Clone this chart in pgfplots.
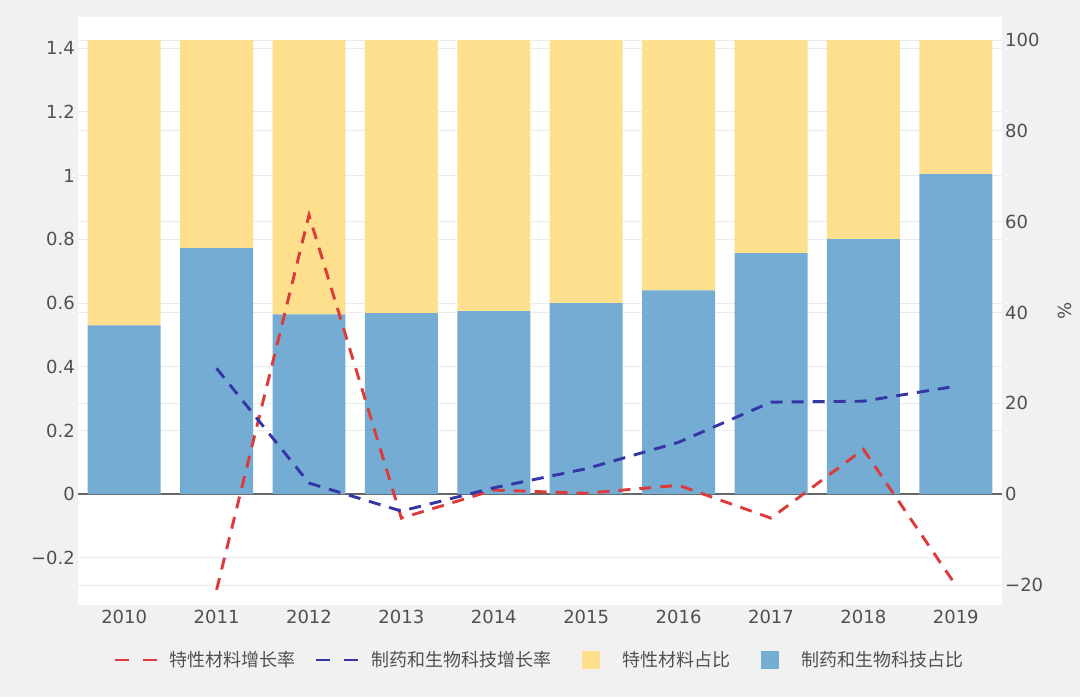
\documentclass[border=0pt]{standalone}
\usepackage{pgfplots}
\pgfplotsset{compat=1.18}
\usepackage{fontspec}
\setmainfont{DejaVu Sans}
\newfontfamily\cjk{Noto Sans CJK SC}
\definecolor{bgc}{HTML}{F1F1F1}
\definecolor{gridc}{HTML}{EBEBEB}
\definecolor{labc}{HTML}{505050}
\definecolor{zeroc}{HTML}{666666}
\definecolor{barY}{HTML}{FDDF8E}
\definecolor{barB}{HTML}{74ACD3}
\definecolor{lineR}{HTML}{DD3A3A}
\definecolor{lineB}{HTML}{3535A5}
\begin{document}
\begin{tikzpicture}
\fill[bgc] (0pt,0pt) rectangle (1080pt,697pt);
% ---------- right axis: share bars (percent) ----------
\begin{axis}[
  at={(78pt,92pt)}, anchor=south west,
  width=924pt, height=588pt, scale only axis,
  xmin=-0.5, xmax=9.5, ymin=-24.4, ymax=105.1,
  axis y line*=right, axis x line*=bottom,
  axis line style={draw=none},
  axis background/.style={fill=white},
  ybar stacked, bar width=0.79,
  xtick={0,...,9},
  xticklabels={2010,2011,2012,2013,2014,2015,2016,2017,2018,2019},
  ytick={-20,0,20,40,60,80,100},
  yticklabels={−20,0,20,40,60,80,100},
  extra y ticks={-14.03,14.03,28.07,42.10,56.14,70.17,84.20,98.24},
  extra y tick labels={},
  extra y tick style={grid=major},
  ymajorgrids,
  grid style={color=gridc, line width=1pt},
  major tick length=0pt,
  tick label style={font=\fontsize{18}{21}\selectfont, text=labc},
  yticklabel style={inner xsep=3pt},
  xticklabel style={yshift=-2pt},
  ylabel={\%},
  ylabel style={at={(axis description cs:1.068,0.5)}, anchor=center,
    font=\fontsize{18}{21}\selectfont, text=labc},
]
\addplot[fill=barB, draw=none] coordinates {
  (0,37.2) (1,54.2) (2,39.6) (3,39.9) (4,40.3)
  (5,42.1) (6,44.9) (7,53.1) (8,56.2) (9,70.5)};
\addplot[fill=barY, draw=none] coordinates {
  (0,62.8) (1,45.8) (2,60.4) (3,60.1) (4,59.7)
  (5,57.9) (6,55.1) (7,46.9) (8,43.8) (9,29.5)};
\draw[zeroc, line width=1.6pt] (axis cs:-0.5,0) -- (axis cs:9.5,0);
\end{axis}
% ---------- left axis: growth rates ----------
\begin{axis}[
  at={(78pt,92pt)}, anchor=south west,
  width=924pt, height=588pt, scale only axis,
  xmin=-0.5, xmax=9.5, ymin=-0.3477, ymax=1.4978,
  axis y line*=left, axis x line=none,
  axis line style={draw=none},
  ytick={-0.2,0,0.2,0.4,0.6,0.8,1,1.2,1.4},
  yticklabels={−0.2,0,0.2,0.4,0.6,0.8,1,1.2,1.4},
  major tick length=0pt,
  tick label style={font=\fontsize{18}{21}\selectfont, text=labc},
  yticklabel style={inner xsep=3pt},
  legend columns=4,
  legend style={draw=none, fill=none,
    at={(0.498,-0.0935)}, anchor=center,
    font=\cjk\fontsize{18}{21}\selectfont, text=labc,
    nodes={inner xsep=0pt},
    /tikz/every even column/.append style={column sep=19pt}},
  legend cell align=left,
]
\addplot[lineR, line width=2.9pt, dash pattern=on 12pt off 9pt,
  legend image code/.code={
    \draw[lineR, line width=2.9pt, dash pattern=on 14pt off 14pt] (0pt,0pt) -- (42pt,0pt);
    \path[draw=none, fill=none] (0pt,-9pt) rectangle (55pt,9pt);}]
  coordinates {(1,-0.300) (2,0.876) (3,-0.075) (4,0.013) (5,0.003)
               (6,0.028) (7,-0.075) (8,0.141) (9,-0.286)};
\addplot[lineB, line width=2.9pt, dash pattern=on 12pt off 9pt,
  legend image code/.code={
    \draw[lineB, line width=2.9pt, dash pattern=on 14pt off 14pt] (0pt,0pt) -- (42pt,0pt);
    \path[draw=none, fill=none] (0pt,-9pt) rectangle (55pt,9pt);}]
  coordinates {(1,0.395) (2,0.035) (3,-0.053) (4,0.020) (5,0.080)
               (6,0.163) (7,0.289) (8,0.292) (9,0.339)};
\addlegendimage{legend image code/.code={
    \fill[barY, draw=none] (12pt,-9pt) rectangle (30pt,9pt);
    \path[draw=none, fill=none] (0pt,-9pt) rectangle (52pt,9pt);}}
\addlegendimage{legend image code/.code={
    \fill[barB, draw=none] (12pt,-9pt) rectangle (30pt,9pt);
    \path[draw=none, fill=none] (0pt,-9pt) rectangle (52pt,9pt);}}
\legend{特性材料增长率,制药和生物科技增长率,特性材料占比,制药和生物科技占比}
\end{axis}
\pgfresetboundingbox
\useasboundingbox (0pt,0pt) rectangle (1080pt,697pt);
\end{tikzpicture}
\end{document}
